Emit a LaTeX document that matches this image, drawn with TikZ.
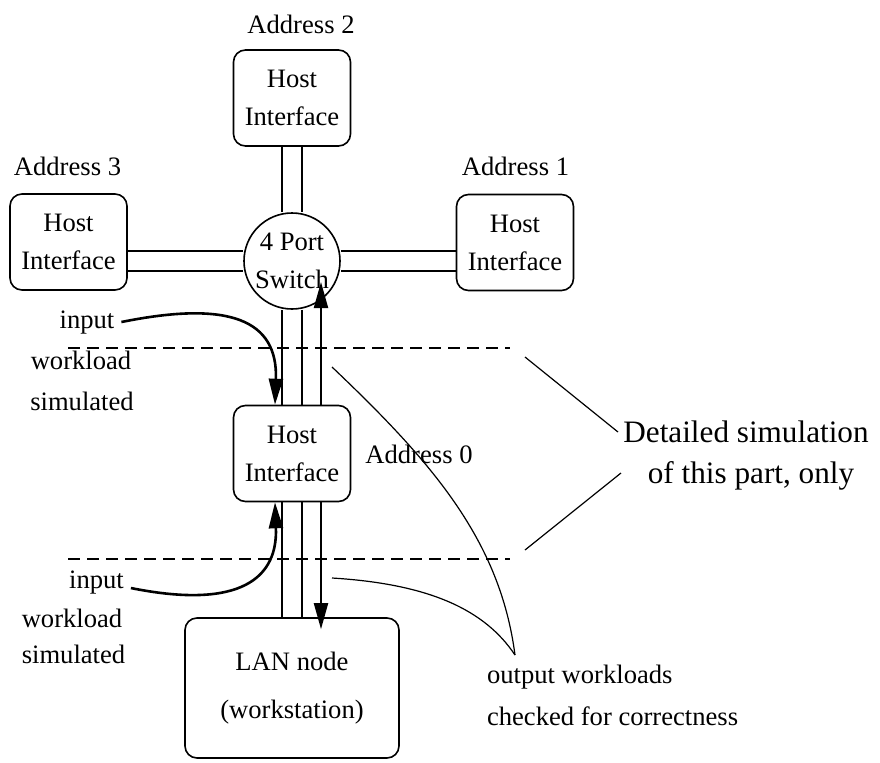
\documentclass[tikz,border=0pt]{standalone}
\usepackage{fontspec}
\setmainfont{Liberation Serif}
\usetikzlibrary{arrows.meta,backgrounds}

\begin{document}
\begin{tikzpicture}[x=0.5pt,y=-0.5pt,>={Triangle[length=13pt,width=7pt]},
  every node/.style={font=\fontsize{13.3}{19}\selectfont},
  hostbox/.style={draw,line width=0.8pt,rounded corners=6pt,minimum width=58.5pt,minimum height=48pt,align=center,inner sep=1pt},
  chan/.style={double,line width=0.7pt,double distance=9.3pt},
  flow/.style={->,line width=1pt},
  inflow/.style={->,line width=1.3pt},
  cut/.style={line width=0.6pt,dash pattern=on 6pt off 3.5pt},
  note/.style={line width=0.6pt}]
        \useasboundingbox (0,0) rectangle (880,762);
        % switch and its four host interfaces
        \node[draw,circle,line width=0.8pt,minimum size=48pt,inner sep=0pt,align=center] (sw) at (292,261) {4 Port\\Switch};
        \node[hostbox] (hi2) at (292,98) {Host\\Interface};
        \node[hostbox] (hi3) at (68.5,242) {Host\\Interface};
        \node[hostbox] (hi1) at (515,242.5) {Host\\Interface};
        \node[hostbox] (hi0) at (292,453.5) {Host\\Interface};
        \node[draw,line width=0.8pt,rounded corners=6pt,minimum width=107pt,minimum height=70pt,align=center] (lan) at (292,688) {LAN node\\[5pt](workstation)};
        \node[anchor=base] (adr2) at (301,33) {Address 2};
        \node[anchor=base] (adr3) at (67.5,175) {Address 3};
        \node[anchor=base] (adr1) at (515.5,175) {Address 1};
        \node[anchor=base] (adr0) at (419,463) {Address 0};
        % links
        \begin{scope}[on background layer]
          \draw[chan] (hi2) -- (sw);
          \draw[chan] (hi3.east |- sw.center) -- (sw);
          \draw[chan] (sw) -- (hi1.west |- sw.center);
          \draw[chan] (sw) -- (hi0);
          \draw[chan] (hi0) -- (lan);
        \end{scope}
        \draw[flow] ([xshift=14.5pt]hi0.north) -- ([xshift=14.5pt,yshift=-10.5pt]sw.center);
        \draw[flow] ([xshift=14.5pt]hi0.south) -- ([xshift=14.5pt,yshift=-6pt]lan.north);
        % simulated part
        \coordinate (c1l) at (68,348);
        \coordinate (c1r) at (510,348);
        \coordinate (c2l) at (68,559);
        \coordinate (c2r) at (510,559);
        \draw[cut] (c1l) -- (c1r);
        \draw[cut] (c2l) -- (c2r);
        % input workloads
        \node[anchor=base] (in1) at (87,328) {input};
        \node[anchor=base] (wl1) at (81,369) {workload};
        \node[anchor=base] (sim1) at (82,410) {simulated};
        \node[anchor=base] (in2) at (96.5,588) {input};
        \node[anchor=base] (wl2) at (72,627) {workload};
        \node[anchor=base] (sim2) at (73.5,663) {simulated};
        \draw[inflow] (in1.east) .. controls (230,300) and (278,320) .. ([xshift=-8.5pt]hi0.north);
        \draw[inflow] ([yshift=-3pt]in2.east) .. controls (230,608) and (278,585) .. ([xshift=-8.5pt]hi0.south);
        % output workloads
        \node[anchor=base west] (out1) at (480,683) {output workloads};
        \node[anchor=base west] (out2) at (480,725) {checked for correctness};
        \coordinate (oa) at (332,367);
        \coordinate (ob) at (332,578);
        \coordinate (otip) at (515,655);
        \draw[note] (oa) .. controls (432,462) and (500,540) .. (otip);
        \draw[note] (ob) .. controls (430,584) and (485,610) .. (otip);
        % detailed part
        \node[anchor=base,font=\fontsize{15.6}{20}\selectfont] (det1) at (746,442) {Detailed simulation};
        \node[anchor=base,font=\fontsize{15.6}{20}\selectfont] (det2) at (751,483) {of this part, only};
        \coordinate (da1) at (525,357);
        \coordinate (da2) at (618,432);
        \coordinate (db1) at (525,550);
        \coordinate (db2) at (621,473);
        \draw[note] (da1) -- (da2);
        \draw[note] (db1) -- (db2);
      \end{tikzpicture}
\end{document}
